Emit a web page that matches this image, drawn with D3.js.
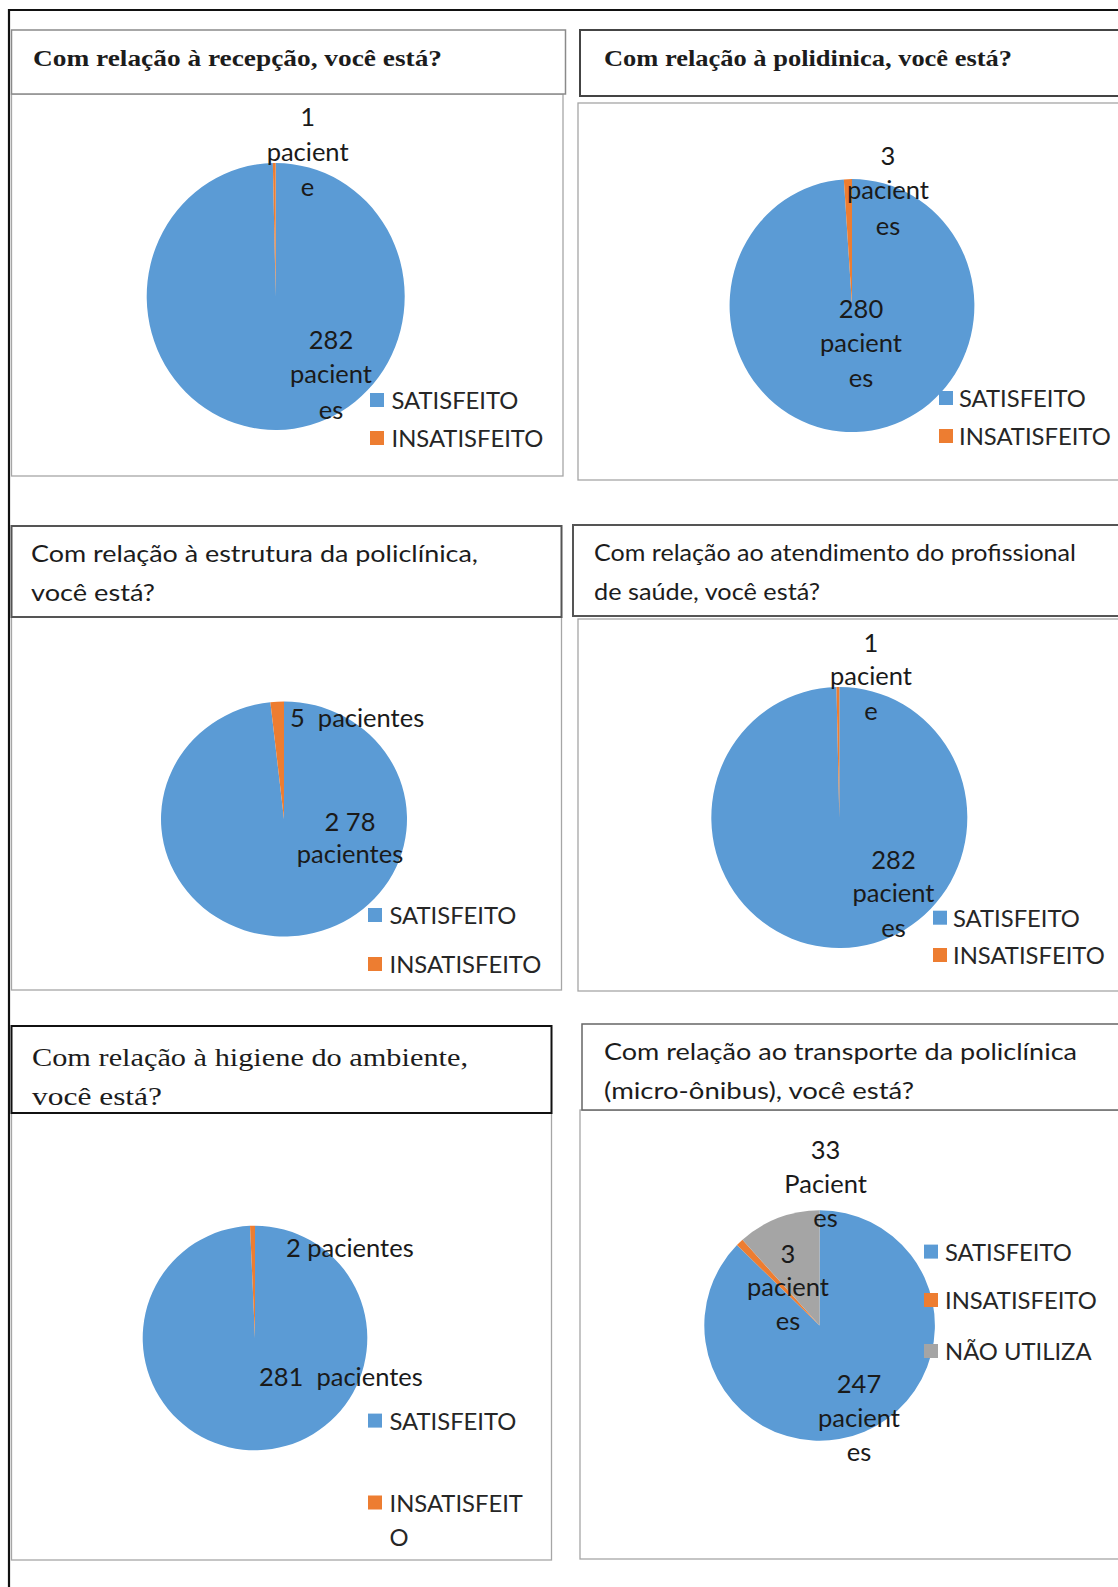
<!DOCTYPE html>
<html>
<head>
<meta charset="utf-8">
<script src="https://cdn.jsdelivr.net/npm/d3@7"></script>
<style>
  html, body { margin: 0; padding: 0; background: #fff; }
  svg { display: block; }
</style>
</head>
<body>
<svg id="chart" width="1118" height="1587"></svg>
<script>
// ---- Survey answers (number of patients) ----
const categoriesTwo = ["SATISFEITO", "INSATISFEITO"];
const categoriesThree = ["SATISFEITO", "INSATISFEITO", "NÃO UTILIZA"];

const recepcaoValues = [282, 1];
const policlinicaValues = [280, 3];
const estruturaValues = [278, 5];
const atendimentoValues = [282, 1];
const higieneValues = [281, 2];
const transporteValues = [247, 3, 33];

// Slice labels, one array of lines per slice (same order as the values)
const recepcaoLabels = [["282", "pacient", "es"], ["1", "pacient", "e"]];
const policlinicaLabels = [["280", "pacient", "es"], ["3", "pacient", "es"]];
const estruturaLabels = [["2 78", "pacientes"], ["5  pacientes"]];
const atendimentoLabels = [["282", "pacient", "es"], ["1", "pacient", "e"]];
const higieneLabels = [["281  pacientes"], ["2 pacientes"]];
const transporteLabels = [["247", "pacient", "es"], ["3", "pacient", "es"], ["33", "Pacient", "es"]];

// Question titles
const recepcaoTitle = ["Com relação à recepção, você está?"];
const policlinicaTitle = ["Com relação à polidinica, você está?"];
const estruturaTitle = ["Com relação à estrutura da policlínica,", "você está?"];
const atendimentoTitle = ["Com relação ao atendimento do profissional", "de saúde, você está?"];
const higieneTitle = ["Com relação à higiene do ambiente,", "você está?"];
const transporteTitle = ["Com relação ao transporte da policlínica", "(micro-ônibus), você está?"];

// ---- Drawing ----
const svg = d3.select("#chart");
const color = d3.scaleOrdinal()
  .domain(categoriesThree)
  .range(["#5B9BD5", "#ED7D31", "#A5A5A5"]);

const sansFont = "Lato, 'Open Sans', sans-serif";
const serifFont = "'Liberation Serif', 'DejaVu Serif', serif";

// outer page frame (top and left rules)
svg.append("line").attr("x1", 8).attr("x2", 1118).attr("y1", 10).attr("y2", 10)
  .attr("stroke", "#111").attr("stroke-width", 2);
svg.append("line").attr("x1", 9).attr("x2", 9).attr("y1", 9).attr("y2", 1587)
  .attr("stroke", "#111").attr("stroke-width", 2.2);

const panels = [
  {
    title: recepcaoTitle, titleFont: serifFont, titleWeight: "bold", titleSize: 24,
    titleX: 33, titleY: [58], titleW: [409],
    titleBox: { x: 11.5, y: 30, w: 554, h: 64, stroke: "#8a8a8a", sw: 1.5 },
    chartBox: { x: 11.5, y: 94, w: 551.5, h: 382 },
    cats: categoriesTwo, values: recepcaoValues, labels: recepcaoLabels,
    cx: 275.7, cy: 296.5, rx: 129, ry: 133.5,
    labelPos: [{ x: 331, y: [339, 373, 409], anchor: "middle" }, { x: 307.6, y: [116, 151, 186], anchor: "middle" }],
    legend: { sx: 370, tx: 391.5, y: [400, 438] }
  },
  {
    title: policlinicaTitle, titleFont: serifFont, titleWeight: "bold", titleSize: 24,
    titleX: 604, titleY: [58], titleW: [408],
    titleBox: { x: 580, y: 30, w: 560, h: 66, stroke: "#444", sw: 2 },
    chartBox: { x: 578, y: 103, w: 560, h: 377 },
    cats: categoriesTwo, values: policlinicaValues, labels: policlinicaLabels,
    cx: 852, cy: 305.6, rx: 122.4, ry: 126.5,
    labelPos: [{ x: 861, y: [307.6, 342, 377], anchor: "middle" }, { x: 888, y: [155, 189, 225], anchor: "middle" }],
    legend: { sx: 939, tx: 959, y: [398, 436] }
  },
  {
    title: estruturaTitle, titleFont: sansFont, titleWeight: "normal", titleSize: 24,
    titleX: 31, titleY: [552, 591], titleW: [447, 124],
    titleBox: { x: 11.5, y: 526, w: 550, h: 91, stroke: "#555", sw: 2 },
    chartBox: { x: 11.5, y: 617, w: 550, h: 373 },
    cats: categoriesTwo, values: estruturaValues, labels: estruturaLabels,
    cx: 284, cy: 819, rx: 123, ry: 117.5,
    labelPos: [{ x: 350, y: [821, 853], anchor: "middle" }, { x: 290, y: [717], anchor: "start" }],
    legend: { sx: 368, tx: 389.5, y: [915, 964] }
  },
  {
    title: atendimentoTitle, titleFont: sansFont, titleWeight: "normal", titleSize: 24,
    titleX: 594, titleY: [551, 590], titleW: [482, 226],
    titleBox: { x: 573, y: 525, w: 560, h: 91, stroke: "#555", sw: 2 },
    chartBox: { x: 578, y: 619, w: 560, h: 372 },
    cats: categoriesTwo, values: atendimentoValues, labels: atendimentoLabels,
    cx: 839.3, cy: 817.5, rx: 128, ry: 130.5,
    labelPos: [{ x: 893.5, y: [859, 892.4, 927], anchor: "middle" }, { x: 871, y: [641.5, 675, 710], anchor: "middle" }],
    legend: { sx: 933, tx: 953, y: [917.7, 955] }
  },
  {
    title: higieneTitle, titleFont: serifFont, titleWeight: "normal", titleSize: 26,
    titleX: 32, titleY: [1057, 1096], titleW: [436, 130],
    titleBox: { x: 11.5, y: 1026, w: 540, h: 87, stroke: "#111", sw: 2 },
    chartBox: { x: 11.5, y: 1113, w: 540, h: 447 },
    cats: categoriesTwo, values: higieneValues, labels: higieneLabels,
    cx: 255, cy: 1338, rx: 112.3, ry: 112.3,
    labelPos: [{ x: 259, y: [1376], anchor: "start" }, { x: 286, y: [1246.5], anchor: "start" }],
    legend: { sx: 368, tx: 389.5, y: [1420.6, 1502.5], wrap: { 1: ["INSATISFEIT", "O"] } }
  },
  {
    title: transporteTitle, titleFont: sansFont, titleWeight: "normal", titleSize: 24,
    titleX: 604, titleY: [1050, 1089], titleW: [473, 310],
    titleBox: { x: 582, y: 1024, w: 560, h: 86, stroke: "#666", sw: 1.5 },
    chartBox: { x: 580, y: 1110, w: 560, h: 449 },
    cats: categoriesThree, values: transporteValues, labels: transporteLabels,
    cx: 819.6, cy: 1325.5, rx: 115.3, ry: 115.3,
    labelPos: [
      { x: 859, y: [1383, 1416.5, 1451], anchor: "middle" },
      { x: 788, y: [1252.6, 1286, 1320], anchor: "middle" },
      { x: 825.6, y: [1149.4, 1183, 1217], anchor: "middle" }
    ],
    legend: { sx: 924, tx: 945, y: [1251.6, 1300, 1351] }
  }
];

const pie = d3.pie().sort(null).value(d => d.value)
  .startAngle(0).endAngle(2 * Math.PI);

panels.forEach(p => {
  const g = svg.append("g");

  // chart area frame
  g.append("rect")
    .attr("x", p.chartBox.x).attr("y", p.chartBox.y)
    .attr("width", p.chartBox.w).attr("height", p.chartBox.h)
    .attr("fill", "#fff").attr("stroke", "#a6a6a6").attr("stroke-width", 1.3);

  // title frame
  g.append("rect")
    .attr("x", p.titleBox.x).attr("y", p.titleBox.y)
    .attr("width", p.titleBox.w).attr("height", p.titleBox.h)
    .attr("fill", "#fff").attr("stroke", p.titleBox.stroke).attr("stroke-width", p.titleBox.sw);

  // title text
  p.title.forEach((line, i) => {
    g.append("text")
      .attr("x", p.titleX).attr("y", p.titleY[i])
      .attr("dominant-baseline", "central")
      .attr("font-family", p.titleFont)
      .attr("font-weight", p.titleWeight)
      .attr("font-size", p.titleSize)
      .attr("fill", "#1c1c1c")
      .attr("textLength", p.titleW[i])
      .attr("lengthAdjust", "spacingAndGlyphs")
      .text(line);
  });

  // pie slices
  const rows = p.cats.map((c, i) => ({ cat: c, value: p.values[i] }));
  const arcs = pie(rows);
  const arc = d3.arc().innerRadius(0).outerRadius(p.rx);
  g.append("g")
    .attr("transform", `translate(${p.cx},${p.cy}) scale(1,${p.ry / p.rx})`)
    .selectAll("path")
    .data(arcs)
    .join("path")
    .attr("d", arc)
    .attr("fill", d => color(d.data.cat));

  // slice labels
  p.labels.forEach((lines, i) => {
    const pos = p.labelPos[i];
    lines.forEach((t, j) => {
      g.append("text")
        .attr("x", pos.x).attr("y", pos.y[j])
        .attr("text-anchor", pos.anchor)
        .attr("dominant-baseline", "central")
        .attr("font-family", sansFont)
        .attr("font-size", 25.5)
        .attr("fill", "#1a1a1a")
        .style("white-space", "pre")
        .text(t);
    });
  });

  // legend
  p.cats.forEach((c, i) => {
    const y = p.legend.y[i];
    g.append("rect")
      .attr("x", p.legend.sx).attr("y", y - 7)
      .attr("width", 14).attr("height", 14)
      .attr("fill", color(c));
    const lines = (p.legend.wrap && p.legend.wrap[i]) ? p.legend.wrap[i] : [c];
    lines.forEach((t, j) => {
      g.append("text")
        .attr("x", p.legend.tx).attr("y", y + j * 34.5)
        .attr("dominant-baseline", "central")
        .attr("font-family", sansFont)
        .attr("font-size", 23.8)
        .attr("fill", "#262626")
        .text(t);
    });
  });
});
</script>
</body>
</html>
